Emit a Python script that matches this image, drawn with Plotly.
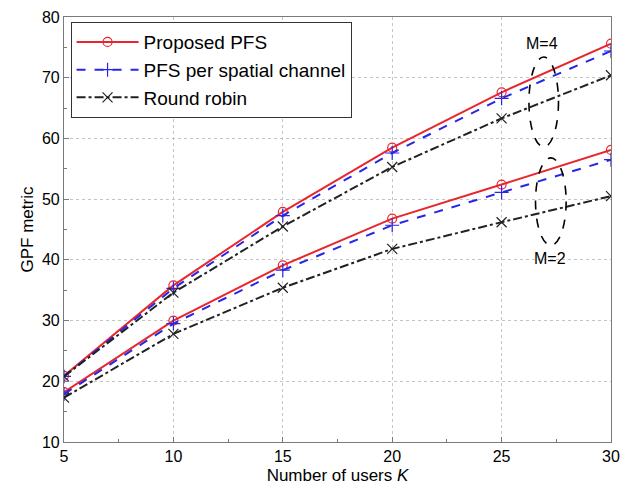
import plotly.graph_objects as go

K = [5, 10, 15, 20, 25, 30]

# M = 4
prop_m4 = [20.9, 35.8, 47.9, 58.5, 67.6, 75.6]
pfs_m4 = [20.8, 35.3, 47.3, 57.6, 66.6, 74.4]
rr_m4 = [20.8, 34.6, 45.5, 55.3, 63.3, 70.4]

# M = 2
prop_m2 = [18.2, 30.0, 39.1, 46.8, 52.4, 58.1]
pfs_m2 = [17.9, 29.5, 38.3, 45.7, 51.1, 56.5]
rr_m2 = [17.3, 27.8, 35.4, 41.8, 46.2, 50.5]

x_ticks = [5, 10, 15, 20, 25, 30]
y_ticks = [10, 20, 30, 40, 50, 60, 70, 80]

FONT = "Arial, Liberation Sans, sans-serif"

fig = go.Figure()

styles = [
    ("Proposed PFS", "#e8262e", "solid", "circle-open", 9),
    ("PFS per spatial channel", "#2626e6", "dash", "cross-thin-open", 10),
    ("Round robin", "#222222", "dashdot", "x-thin-open", 10),
]
series = [(prop_m4, prop_m2), (pfs_m4, pfs_m2), (rr_m4, rr_m2)]

for (name, color, dash, sym, size), (s4, s2) in zip(styles, series):
    for i, ys in enumerate((s4, s2)):
        fig.add_trace(go.Scatter(
            x=K, y=ys, mode="lines+markers", name=name,
            showlegend=(i == 0), legendgroup=name,
            line=dict(color=color, width=2, dash=dash),
            marker=dict(symbol=sym, size=size, color=color,
                        line=dict(width=1.2, color=color)),
        ))

# Ellipses grouping the curves
fig.add_shape(type="circle", xref="x", yref="y", x0=26.25, x1=27.6, y0=58.6, y1=73.4,
              line=dict(color="black", width=1.6, dash="dash"))
fig.add_shape(type="circle", xref="x", yref="y", x0=26.55, x1=27.95, y0=42.4, y1=56.8,
              line=dict(color="black", width=1.6, dash="dash"))

fig.add_annotation(x=26.85, y=75.7, text="M=4", showarrow=False,
                   font=dict(family=FONT, size=16, color="black"))
fig.add_annotation(x=27.2, y=40.2, text="M=2", showarrow=False,
                   font=dict(family=FONT, size=16, color="black"))

axis_common = dict(
    showline=True, linecolor="#7a7a7a", linewidth=1.2, mirror=True,
    ticks="inside", ticklen=5, tickcolor="#7a7a7a",
    showgrid=True, gridcolor="#c4c4c4", griddash="dot", gridwidth=1,
    zeroline=False, automargin=False, ticklabeloverflow="allow",
    tickfont=dict(family=FONT, size=16, color="black"),
)

fig.update_xaxes(range=[5, 30], tickvals=x_ticks,
                 minor=dict(ticks="inside", ticklen=3, dtick=2.5, tick0=5, tickcolor="#7a7a7a", showgrid=False),
                 title=dict(text="Number of users <i>K</i>", font=dict(family=FONT, size=17, color="black"), standoff=8),
                 **axis_common)
fig.update_yaxes(range=[10, 80], tickvals=y_ticks,
                 minor=dict(ticks="inside", ticklen=3, dtick=5, tick0=10, tickcolor="#7a7a7a", showgrid=False),
                 title=dict(text="GPF metric", font=dict(family=FONT, size=17, color="black"), standoff=3),
                 **axis_common)

fig.update_layout(
    width=625, height=477,
    margin=dict(l=56, r=22, t=9, b=43),
    paper_bgcolor="white", plot_bgcolor="white",
    font=dict(family=FONT, color="black"),
    legend=dict(x=0.012, y=0.988, xanchor="left", yanchor="top",
                bgcolor="white", bordercolor="#333333", borderwidth=1,
                font=dict(family=FONT, size=19, color="black"),
                itemwidth=62, tracegroupgap=0,
                entrywidth=300, entrywidthmode="pixels"),
    showlegend=True,
)

fig.write_html("out.html")
